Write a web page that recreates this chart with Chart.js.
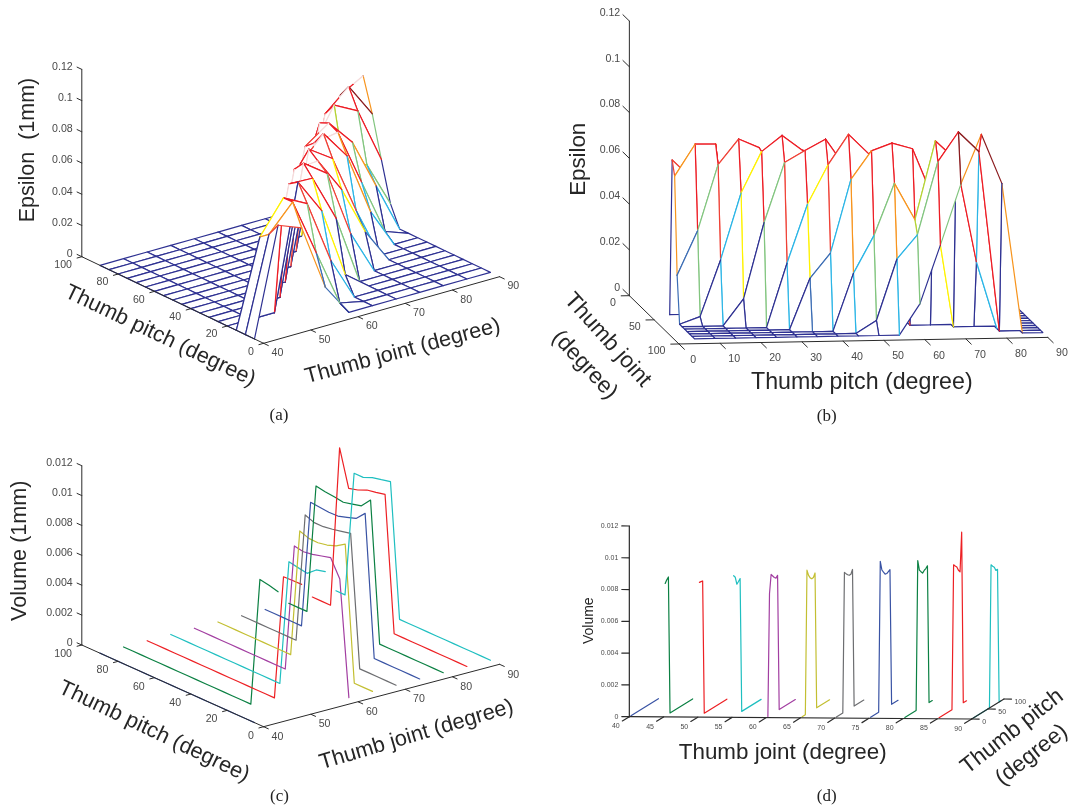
<!DOCTYPE html>
<html>
<head>
<meta charset="utf-8">
<title>Thumb grasp surfaces</title>
<script src="https://cdn.jsdelivr.net/npm/chart.js@4"></script>
<style>
  html, body { margin: 0; padding: 0; background: #fff; }
  #page { position: relative; width: 1069px; height: 809px; overflow: hidden; }
  #page canvas { position: absolute; filter: blur(0.35px); }
</style>
</head>
<body>
<div id="page"></div>
<script>
// axis values
const pitchValues = [5, 10, 15, 20, 25, 30, 35, 40, 45, 50, 55, 60, 65, 70, 75, 80, 85, 90];
const jointValues = [40, 45, 50, 55, 60, 65, 70, 75, 80, 85, 90];

const epsilonTicks = [0, 0.02, 0.04, 0.06, 0.08, 0.1, 0.12];
const volumeTicks = [0, 0.002, 0.004, 0.006, 0.008, 0.01, 0.012];
const pitchTicks = [0, 20, 40, 60, 80, 100];
const pitchTicksB = [0, 10, 20, 30, 40, 50, 60, 70, 80, 90];
const pitchTicksD = [0, 50, 100];
const jointTicks = [40, 50, 60, 70, 80, 90];
const jointTicksB = [0, 50, 100];
const jointTicksD = [40, 45, 50, 55, 60, 65, 70, 75, 80, 85, 90];

// epsilon surface, one row per pitch value, one column per joint value
const epsilon = [
  [0, 0.0686, 0.0626, 0.0204, 0, 0, 0, 0, 0, 0, 0],
  [0, 0.06, 0.0764, 0.0396, 0.0032, 0, 0, 0, 0, 0, 0],
  [0, 0.0555, 0.0763, 0.0684, 0.0278, 0, 0, 0, 0, 0, 0],
  [0, 0, 0, 0.0794, 0.0569, 0.0117, 0, 0, 0, 0, 0],
  [0, 0, 0, 0.0755, 0.0748, 0.0448, 0, 0, 0, 0, 0],
  [0, 0, 0, 0, 0.0817, 0.0709, 0.028, 0, 0, 0, 0],
  [0, 0, 0, 0, 0.075, 0.076, 0.0536, 0.0223, 0, 0, 0],
  [0, 0, 0, 0, 0, 0.0808, 0.0706, 0.0331, 0, 0, 0],
  [0, 0, 0, 0, 0, 0.068, 0.0838, 0.0652, 0.0252, 0, 0],
  [0, 0, 0, 0, 0, 0, 0.075, 0.0775, 0.0415, 0.0055, 0],
  [0, 0, 0, 0, 0, 0, 0.07, 0.0807, 0.0642, 0.0321, 0],
  [0, 0, 0, 0, 0, 0, 0, 0.0781, 0.0481, 0.0426, 0.0135],
  [0, 0, 0, 0, 0, 0, 0, 0.0565, 0.0824, 0.0744, 0.039],
  [0, 0, 0, 0, 0, 0, 0, 0, 0.074, 0.0872, 0.0655],
  [0, 0, 0, 0, 0, 0, 0, 0, 0.0293, 0.0785, 0.0871],
  [0, 0, 0, 0, 0, 0, 0, 0, 0, 0, 0.0655],
  [0, 0, 0, 0, 0, 0, 0, 0, 0, 0, 0],
  [0, 0, 0, 0, 0, 0, 0, 0, 0, 0, 0]
];

// volume, one curve per joint value, points follow pitchValues
const volumeJ40 = [0, 0, 0, 0, 0, 0, 0, 0, 0, 0, 0, 0, 0, 0, 0, 0, 0, 0];
const volumeJ45 = [0.00834, 0.0085, 0.00862, 0, 0, 0, 0, 0, 0, 0, 0, 0, 0, 0, 0, 0, 0, 0];
const volumeJ50 = [0.00842, 0.0084, 0.00838, 0, 0, 0, 0, 0, 0, 0, 0, 0, 0, 0, 0, 0, 0, 0];
const volumeJ55 = [0.00885, 0.00869, 0.00819, 0.0083, 0.00842, 0, 0, 0, 0, 0, 0, 0, 0, 0, 0, 0, 0, 0];
const volumeJ60 = [0, 0.00767, 0.00882, 0.00866, 0.0085, 0.0084, 0.00851, 0, 0, 0, 0, 0, 0, 0, 0, 0, 0, 0];
const volumeJ65 = [0, 0, 0, 0.00904, 0.00865, 0.00843, 0.00831, 0.00833, 0.00855, 0, 0, 0, 0, 0, 0, 0, 0, 0];
const volumeJ70 = [0, 0, 0, 0, 0, 0.00879, 0.00865, 0.00852, 0.00842, 0.00842, 0.00866, 0, 0, 0, 0, 0, 0, 0];
const volumeJ75 = [0, 0, 0, 0, 0, 0, 0.00944, 0.00883, 0.00863, 0.00844, 0.00842, 0.00848, 0.00854, 0, 0, 0, 0, 0];
const volumeJ80 = [0, 0, 0, 0, 0, 0, 0, 0, 0.00937, 0.00871, 0.00855, 0.0084, 0.0085, 0.00856, 0.00867, 0, 0, 0];
const volumeJ85 = [0, 0, 0, 0, 0, 0, 0, 0, 0, 0.00906, 0.00892, 0.0088, 0.00853, 0.00837, 0.0108, 0, 0, 0];
const volumeJ90 = [0, 0, 0, 0, 0, 0, 0, 0, 0, 0, 0, 0.00895, 0.0088, 0.00867, 0.00841, 0.00841, 0, 0];

const volumeCurves = [volumeJ40, volumeJ45, volumeJ50, volumeJ55, volumeJ60, volumeJ65, volumeJ70, volumeJ75, volumeJ80, volumeJ85, volumeJ90];
const curveColors = ['#3953a4', '#0b8043', '#ed2024', '#1fbfc0', '#a23ea1', '#c3bf32', '#6d6e71', '#3953a4', '#0b8043', '#ed2024', '#1fbfc0'];

// colour of a mesh edge from the height of its start vertex
const levelLimits = [0.015, 0.024, 0.034, 0.046, 0.05, 0.0585, 0.067, 0.0715, 0.085];
const levelColors = ['#2e3192', '#3c6db4', '#2bb5e6', '#82c57f', '#b5d334', '#fff200', '#f7941d', '#ef4136', '#ed1c24', '#8b1c1f'];
const PALE_EDGE = '#f4dcdc';

function levelColor(z) {
  const i = levelLimits.findIndex(l => z < l);
  return levelColors[i === -1 ? levelColors.length - 1 : i];
}

// oblique views of (pitch, joint, height)
const viewA = { x0: 263.6, y0: 343.3, ju: 4.719, jv: 1.332, pu: -1.818, pv: 0.866, zv: 1561 };
const viewB = { x0: 649.2, y0: 315, ju: 0.496, jv: -0.483, pu: 4.098, pv: 0.0733, zv: 2289 };
const viewC = { x0: 263.6, y0: 726.7, ju: 4.719, jv: 1.248, pu: -1.818, pv: 0.817, zv: 14942 };
const viewD = { x0: 629.33, y0: 716.67, ju: 6.847, jv: -0.0467, pu: 0.323, pv: 0.2, zv: 15889 };

function project(view, p, j, z) {
  return {
    x: view.x0 + view.ju * (j - 40) + view.pu * p,
    y: view.y0 - view.jv * (j - 40) - view.pv * p - view.zv * z,
  };
}

function polyline(points, color, width) {
  return { data: points, borderColor: color, borderWidth: width, fill: false };
}

// riser that keeps its colour low down and prints almost white near the top
function fadingEdge(ctx, color, reversed) {
  const g = ctx.chart.ctx.createLinearGradient(ctx.p0.x, ctx.p0.y, ctx.p1.x, ctx.p1.y);
  const cut = reversed ? 0.4 : 0.6;
  g.addColorStop(0, reversed ? PALE_EDGE : color);
  g.addColorStop(cut, reversed ? PALE_EDGE : color);
  g.addColorStop(cut, reversed ? color : PALE_EDGE);
  g.addColorStop(1, reversed ? color : PALE_EDGE);
  return g;
}

// one white face plus its outline per mesh cell, painted far to near,
// so near cells hide what is behind. The face has to be its own dataset:
// a segment style would split the fill into separate open pieces.
// fadeFrom: view (a) only, joint-wise risers from this pitch on fade towards the top
function meshCells(view, order, fadeFrom) {
  const cells = [];
  for (const [i, k] of order) {
    const a = epsilon[i][k], b = epsilon[i][k + 1], c = epsilon[i + 1][k + 1], d = epsilon[i + 1][k];
    const pi = pitchValues[i], pn = pitchValues[i + 1], jk = jointValues[k], jn = jointValues[k + 1];
    const pts = [project(view, pi, jk, a), project(view, pi, jn, b), project(view, pn, jn, c), project(view, pn, jk, d), project(view, pi, jk, a)];
    const fades = (p, from, to) => fadeFrom !== undefined && p >= fadeFrom && to > from;
    const edges = [levelColor(a), levelColor(b), levelColor(d), levelColor(a)];
    const fadeNear = fades(pi, a, b);
    const fadeFar = fades(pn, d, c);
    cells.push({ data: pts, fill: 'shape', backgroundColor: '#fff', borderWidth: 0, borderColor: 'rgba(0,0,0,0)' });
    cells.push({
      data: pts,
      fill: false,
      borderColor: edges[0],
      borderWidth: 1.2,
      segment: {
        borderColor: ctx => {
          const n = ctx.p0DataIndex;
          if (n === 0 && fadeNear) return fadingEdge(ctx, edges[0], false);
          if (n === 2 && fadeFar) return fadingEdge(ctx, edges[2], true);
          return edges[n];
        },
      },
    });
  }
  return cells;
}

function cellOrder(pitchDown, jointDown) {
  const out = [];
  const rows = pitchValues.slice(0, -1).map((_, i) => i);
  const cols = jointValues.slice(0, -1).map((_, k) => k);
  if (pitchDown) rows.reverse();
  if (jointDown) cols.reverse();
  for (const k of cols) for (const i of rows) out.push([i, k]);
  return out;
}

function volumeLines(view) {
  return volumeCurves.map((curve, n) => polyline(
    pitchValues.map((p, i) => project(view, p, jointValues[n], curve[i])),
    curveColors[n], 1.2
  ));
}

const AXIS = '#2b2b2b';

// axes and tick marks, all in data space
function axes(view, cfg) {
  const out = [];
  const seg = (a, b) => out.push(polyline([project(view, ...a), project(view, ...b)], AXIS, cfg.width || 1));
  seg([cfg.zAt[0], cfg.zAt[1], 0], [cfg.zAt[0], cfg.zAt[1], cfg.zTicks[cfg.zTicks.length - 1]]);
  seg([cfg.pFrom, cfg.pAxisJ, 0], [cfg.pTo, cfg.pAxisJ, 0]);
  seg([cfg.jAxisP, cfg.jFrom, 0], [cfg.jAxisP, cfg.jTo, 0]);
  for (const z of cfg.zTicks) seg([cfg.zAt[0], cfg.zAt[1], z], [cfg.zAt[0] + cfg.zTick[0], cfg.zAt[1] + cfg.zTick[1], z]);
  for (const p of cfg.pTicks) seg([p, cfg.pAxisJ, 0], [p, cfg.pAxisJ + cfg.pTick, 0]);
  for (const j of cfg.jTicks) seg([cfg.jAxisP, j, 0], [cfg.jAxisP + cfg.jTick, j, 0]);
  return out;
}

const SANS = '"Liberation Sans", Arial, sans-serif';
const SERIF = '"Liberation Serif", "Times New Roman", serif';
const TICK_GREY = '#4a4a4a';
const TITLE_INK = '#262626';

function tickText(view, cfg) {
  const out = [];
  const font = `${cfg.size}px ${SANS}`;
  const put = (text, pt, o) => out.push({ text, x: pt.x + o.dx, y: pt.y + o.dy, align: o.align, font, color: TICK_GREY });
  for (const z of cfg.zTicks) put(String(z), project(view, cfg.zAt[0], cfg.zAt[1], z), cfg.zLabel);
  for (const p of cfg.pTicks) put(String(p), project(view, p, cfg.pAxisJ, 0), cfg.pLabel);
  for (const j of cfg.jTicks) put(String(j), project(view, cfg.jAxisP, j, 0), cfg.jLabel);
  return out;
}

function title(text, x, y, size, rot) {
  return { text, x, y, rot: rot || 0, align: 'center', font: `${size}px ${SANS}`, color: TITLE_INK };
}
function caption(text, x, y) {
  return { text, x, y, rot: 0, align: 'center', font: `17px ${SERIF}`, color: '#222' };
}

const textPlugin = {
  id: 'pageText',
  afterDraw(chart, args, opts) {
    const { ctx, scales } = chart;
    for (const t of opts.items) {
      ctx.save();
      ctx.translate(scales.x.getPixelForValue(t.x), scales.y.getPixelForValue(t.y));
      ctx.rotate((t.rot || 0) * Math.PI / 180);
      ctx.font = t.font;
      ctx.fillStyle = t.color;
      ctx.textAlign = t.align;
      ctx.textBaseline = 'middle';
      ctx.fillText(t.text, 0, 0);
      ctx.restore();
    }
  },
};

function makePanel(box, datasets, items) {
  const canvas = document.createElement('canvas');
  canvas.width = box.w; canvas.height = box.h;
  canvas.style.cssText = `left:${box.x}px;top:${box.y}px;width:${box.w}px;height:${box.h}px`;
  document.getElementById('page').appendChild(canvas);
  return new Chart(canvas, {
    type: 'scatter',
    // first dataset ends up on top, so hand them over nearest first
    data: { datasets: datasets.slice().reverse() },
    options: {
      responsive: false,
      animation: false,
      events: [],
      clip: false,
      layout: { padding: 0 },
      showLine: true,
      elements: { point: { radius: 0 }, line: { tension: 0, borderCapStyle: 'round', borderJoinStyle: 'round' } },
      plugins: { legend: { display: false }, tooltip: { enabled: false }, pageText: { items } },
      scales: {
        x: { type: 'linear', display: false, min: box.x, max: box.x + box.w },
        y: { type: 'linear', display: false, min: box.y, max: box.y + box.h, reverse: true },
      },
    },
    plugins: [textPlugin],
  });
}

Chart.defaults.font.family = SANS;

// (a)
const cfgA = {
  zAt: [100, 40], zTicks: epsilonTicks, zTick: [2.6, 0], zLabel: { dx: -9.1, dy: -2.5, align: 'right' },
  pFrom: 100, pTo: 0, pAxisJ: 40, pTicks: pitchTicks, pTick: -1, pLabel: { dx: -9.8, dy: 8.5, align: 'right' },
  jFrom: 40, jTo: 90, jAxisP: 0, jTicks: jointTicks, jTick: -2.6, jLabel: { dx: 13.8, dy: 9.8, align: 'center' },
  size: 10.6,
};
makePanel({ x: 0, y: 0, w: 535, h: 430 },
  [...meshCells(viewA, cellOrder(true, true), 25), ...axes(viewA, cfgA)],
  [...tickText(viewA, cfgA),
    title('Epsilon  (1mm)', 28.4, 150, 21.5, -90),
    title('Thumb pitch (degree)', 160.2, 336, 21.8, 25.5),
    title('Thumb joint (degree)', 402.6, 351.5, 21.7, -15),
    caption('(a)', 279, 416)]);

// (b)
const cfgB = {
  zAt: [0, 0], zTicks: epsilonTicks, zTick: [0, -13], zLabel: { dx: -9.1, dy: -8, align: 'right' },
  pFrom: 0, pTo: 90, pAxisJ: 100, pTicks: pitchTicksB, pTick: 11, pLabel: { dx: 14.2, dy: 16, align: 'center' },
  jFrom: 0, jTo: 100, jAxisP: 0, jTicks: jointTicksB, jTick: -2, jLabel: { dx: -13.5, dy: 7.3, align: 'right' },
  size: 10.6,
};
makePanel({ x: 535, y: 0, w: 534, h: 430 },
  [...meshCells(viewB, cellOrder(true, false)), ...axes(viewB, cfgB)],
  [...tickText(viewB, cfgB),
    title('Epsilon', 578.8, 159.3, 22.3, -90),
    title('Thumb pitch (degree)', 861.8, 382.3, 23.2),
    title('Thumb joint', 607.5, 340, 22.5, 48),
    title('(degree)', 584.5, 365, 22.5, 47),
    caption('(b)', 826.7, 416.5)]);

// (c)
const cfgC = {
  zAt: [100, 40], zTicks: volumeTicks, zTick: [2.6, 0], zLabel: { dx: -9.1, dy: -2.4, align: 'right' },
  pFrom: 100, pTo: 0, pAxisJ: 40, pTicks: pitchTicks, pTick: -1, pLabel: { dx: -9.8, dy: 9, align: 'right' },
  jFrom: 40, jTo: 90, jAxisP: 0, jTicks: jointTicks, jTick: -2.6, jLabel: { dx: 13.8, dy: 10.3, align: 'center' },
  size: 10.6,
};
makePanel({ x: 0, y: 430, w: 535, h: 379 },
  [...volumeLines(viewC), ...axes(viewC, cfgC)],
  [...tickText(viewC, cfgC),
    title('Volume (1mm)', 19.6, 550.7, 21.6, -90),
    title('Thumb pitch (degree)', 154, 731.7, 21.8, 25.5),
    title('Thumb joint (degree)', 416.5, 735, 21.7, -16.5),
    caption('(c)', 279.5, 797)]);

// (d)
const cfgD = {
  zAt: [0, 40], zTicks: volumeTicks, zTick: [0, -1.1], zLabel: { dx: -11, dy: 0, align: 'right' },
  pFrom: 0, pTo: 100, pAxisJ: 90, pTicks: pitchTicksD, pTick: 1.1, pLabel: { dx: 10.5, dy: 3.3, align: 'left' },
  jFrom: 40, jTo: 90, jAxisP: 0, jTicks: jointTicksD, jTick: -21.6, jLabel: { dx: -13.5, dy: 9.7, align: 'center' },
  size: 7, width: 1.2,
};
makePanel({ x: 535, y: 430, w: 534, h: 379 },
  [...volumeLines(viewD), ...axes(viewD, cfgD)],
  [...tickText(viewD, cfgD),
    title('Volume', 589.3, 620.7, 14, -90),
    title('Thumb joint (degree)', 782.7, 753.3, 22.4),
    title('Thumb pitch', 1012.3, 731.7, 22.4, -38),
    title('(degree)', 1031.7, 755, 22.4, -38),
    caption('(d)', 826.7, 797)]);
</script>
</body>
</html>
